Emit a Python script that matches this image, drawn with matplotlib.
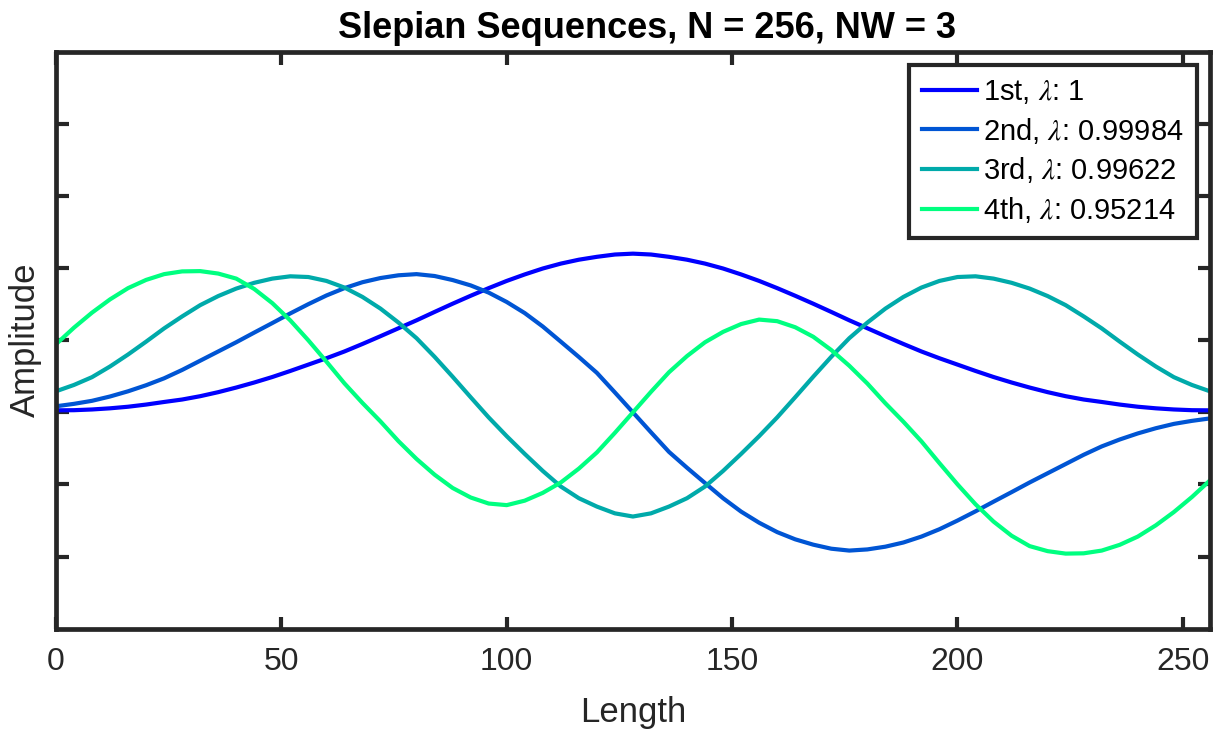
import numpy as np
import matplotlib
matplotlib.use("Agg")
import matplotlib.pyplot as plt

plt.rcParams['font.family'] = ['Liberation Sans', 'DejaVu Sans']
plt.rcParams['mathtext.fontset'] = 'stix'

# Sample index (every 4th sample of the 256-point sequences)
length = np.arange(0, 257, 4)

# Amplitudes of the first four sequences
seq1 = [0.0014, 0.0015, 0.0020, 0.0028, 0.0039, 0.0054, 0.0072, 0.0089, 0.0112,
        0.0140, 0.0172, 0.0207, 0.0245, 0.0287, 0.0331, 0.0375, 0.0422, 0.0474,
        0.0528, 0.0583, 0.0638, 0.0696, 0.0753, 0.0808, 0.0861, 0.0911, 0.0956,
        0.0997, 0.1031, 0.1058, 0.1078, 0.1094, 0.1100,
        0.1094, 0.1078, 0.1058, 0.1031, 0.0997, 0.0956, 0.0911, 0.0861, 0.0808,
        0.0753, 0.0696, 0.0638, 0.0583, 0.0528, 0.0474, 0.0422, 0.0375, 0.0331,
        0.0287, 0.0245, 0.0207, 0.0172, 0.0140, 0.0112, 0.0089, 0.0072, 0.0054,
        0.0039, 0.0028, 0.0020, 0.0015, 0.0014]
seq2 = [0.0042, 0.0059, 0.0080, 0.0110, 0.0146, 0.0188, 0.0236, 0.0294, 0.0358,
        0.0422, 0.0486, 0.0553, 0.0619, 0.0686, 0.0750, 0.0810, 0.0861, 0.0902,
        0.0931, 0.0950, 0.0958, 0.0945, 0.0917, 0.0880, 0.0830, 0.0765, 0.0688,
        0.0595, 0.0490, 0.0384, 0.0274, 0.0138, 0.0,
        -0.0138, -0.0274, -0.0384, -0.0490, -0.0595, -0.0688, -0.0765, -0.0830,
        -0.0880, -0.0917, -0.0945, -0.0958, -0.0950, -0.0931, -0.0902, -0.0861,
        -0.0810, -0.0750, -0.0686, -0.0619, -0.0553, -0.0486, -0.0422, -0.0358,
        -0.0294, -0.0236, -0.0188, -0.0146, -0.0110, -0.0080, -0.0059, -0.0042]
seq3 = [0.0146, 0.0190, 0.0244, 0.0318, 0.0401, 0.0490, 0.0582, 0.0665, 0.0743,
        0.0806, 0.0858, 0.0898, 0.0927, 0.0943, 0.0938, 0.0911, 0.0865, 0.0800,
        0.0719, 0.0622, 0.0514, 0.0385, 0.0247, 0.0105, -0.0035, -0.0165, -0.0288,
        -0.0406, -0.0514, -0.0595, -0.0653, -0.0700, -0.0722,
        -0.0700, -0.0653, -0.0595, -0.0514, -0.0406, -0.0288, -0.0165, -0.0035,
        0.0105, 0.0247, 0.0385, 0.0514, 0.0622, 0.0719, 0.0800, 0.0865, 0.0911,
        0.0938, 0.0943, 0.0927, 0.0898, 0.0858, 0.0806, 0.0743, 0.0665, 0.0582,
        0.0490, 0.0401, 0.0318, 0.0244, 0.0190, 0.0146]
seq4 = [0.0472, 0.0587, 0.0691, 0.0783, 0.0861, 0.0918, 0.0958, 0.0977, 0.0979,
        0.0962, 0.0927, 0.0855, 0.0757, 0.0637, 0.0499, 0.0352, 0.0201, 0.0065,
        -0.0063, -0.0200, -0.0323, -0.0432, -0.0524, -0.0590, -0.0632, -0.0643,
        -0.0612, -0.0558, -0.0486, -0.0390, -0.0278, -0.0142, 0.0,
        0.0142, 0.0278, 0.0390, 0.0486, 0.0558, 0.0612, 0.0643, 0.0632, 0.0590,
        0.0524, 0.0432, 0.0323, 0.0200, 0.0063, -0.0065, -0.0201, -0.0352,
        -0.0499, -0.0637, -0.0757, -0.0855, -0.0927, -0.0962, -0.0979, -0.0977,
        -0.0958, -0.0918, -0.0861, -0.0783, -0.0691, -0.0587, -0.0472]

labels = ['1st', '2nd', '3rd', '4th']
eigvals = ['1', '0.99984', '0.99622', '0.95214']
colors = ['#0000FF', '#0055D4', '#00AAAA', '#00FF80']  # winter(4)

xticks = [0, 50, 100, 150, 200, 250]
yticks = [-0.1, -0.05, 0, 0.05, 0.1, 0.15, 0.2]

fig = plt.figure(figsize=(12.16, 7.38), dpi=100)
ax = fig.add_axes([0.046, 0.148, 0.949, 0.782])

for seq, lab, ev, col in zip([seq1, seq2, seq3, seq4], labels, eigvals, colors):
    ax.plot(length, seq, color=col, linewidth=3, label=lab + r', $\lambda$: ' + ev)

ax.set_xlim(0, 256)
ax.set_ylim(-0.15, 0.25)
ax.set_xticks(xticks)
ax.set_yticks(yticks)
ax.set_yticklabels([])

dark = (0.15, 0.15, 0.15)
for sp in ax.spines.values():
    sp.set_linewidth(3.4)
    sp.set_color(dark)
ax.tick_params(direction='in', length=9, width=3, colors=dark, labelsize=23,
               top=True, right=True, pad=13)

ax.set_xlabel('Length', fontsize=25, color=dark, labelpad=14)
ax.set_ylabel('Amplitude', fontsize=25, color=dark)
ax.yaxis.set_label_coords(-0.012, 0.5)
ax.set_title('Slepian Sequences, N = 256, NW = 3', fontsize=26, fontweight='bold',
             pad=10, x=0.512)

leg = ax.legend(loc='upper right', fontsize=21, handlelength=1.9, handletextpad=0.2,
                labelspacing=0.33, borderaxespad=0.45, borderpad=0.45, fancybox=False)
leg.get_frame().set_edgecolor(dark)
leg.get_frame().set_linewidth(3)
leg.get_frame().set_alpha(1)

fig.savefig('out.png', dpi=100)
